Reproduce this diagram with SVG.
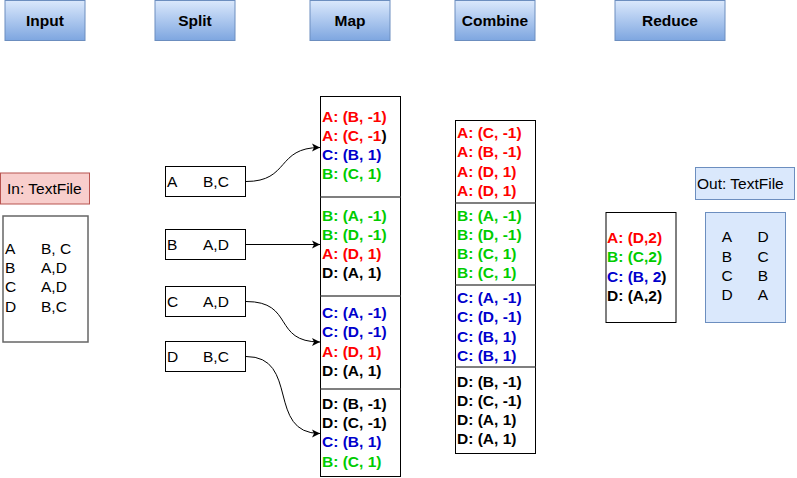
<svg xmlns="http://www.w3.org/2000/svg" width="797" height="478" viewBox="0 0 797 478">
<defs>
<linearGradient id="hdr" x1="0" y1="0" x2="0" y2="1">
<stop offset="0" stop-color="#dae8fc"/>
<stop offset="1" stop-color="#7ea6e0"/>
</linearGradient>
<marker id="arr" markerWidth="10" markerHeight="10" refX="9" refY="5" orient="auto" markerUnits="userSpaceOnUse">
<path d="M1,1 L9,5 L1,9 L3,5 Z" fill="#000"/>
</marker>
</defs>
<style>
.hdr{fill:url(#hdr);stroke:#6c8ebf;stroke-width:1}
.ht{font-family:"Liberation Sans",Arial,sans-serif;font-weight:bold;font-size:15.5px;text-anchor:middle;fill:#000}
.t{font-family:"Liberation Sans",Arial,sans-serif;font-size:15.5px;fill:#000}
.b{font-family:"Liberation Sans",Arial,sans-serif;font-size:15.5px;font-weight:bold}
.box{fill:#fff;stroke:#000;stroke-width:1}
.div{stroke:#555;stroke-width:1.5}
.r{fill:#ff0000}.g{fill:#00cc00}.bl{fill:#0000cc}.k{fill:#000}
.edge{fill:none;stroke:#000;stroke-width:1;marker-end:url(#arr)}
</style>

<g id="hdr-input"><rect class="hdr" x="5" y="0.5" width="80" height="40"/><text class="ht" x="45" y="25.5">Input</text></g>
<g id="hdr-split"><rect class="hdr" x="155" y="0.5" width="80" height="40"/><text class="ht" x="195" y="25.5">Split</text></g>
<g id="hdr-map"><rect class="hdr" x="310" y="0.5" width="80" height="40"/><text class="ht" x="350" y="25.5">Map</text></g>
<g id="hdr-combine"><rect class="hdr" x="455" y="0.5" width="80" height="40"/><text class="ht" x="495" y="25.5">Combine</text></g>
<g id="hdr-reduce"><rect class="hdr" x="615" y="0.5" width="110" height="40"/><text class="ht" x="670" y="25.5">Reduce</text></g>

<g id="in-label"><rect x="0.5" y="173" width="89" height="31" fill="#f8cecc" stroke="#b85450"/><text class="t" x="7" y="194">In: TextFile</text></g>
<g id="input-file"><rect x="3" y="216" width="85" height="126" fill="#fff" stroke="#666" stroke-width="1.5"/>
<text class="t" x="5" y="254">A</text><text class="t" x="41" y="254">B, C</text>
<text class="t" x="5" y="273">B</text><text class="t" x="41" y="273">A,D</text>
<text class="t" x="5" y="292">C</text><text class="t" x="41" y="292">A,D</text>
<text class="t" x="5" y="312">D</text><text class="t" x="41" y="312">B,C</text>
</g>

<g id="split-a"><rect class="box" x="165.5" y="166.5" width="80" height="30"/><text class="t" x="167" y="187">A</text><text class="t" x="203" y="187">B,C</text></g>
<g id="split-b"><rect class="box" x="165.5" y="229.5" width="80" height="30"/><text class="t" x="167" y="250">B</text><text class="t" x="203" y="250">A,D</text></g>
<g id="split-c"><rect class="box" x="165.5" y="286.5" width="80" height="30"/><text class="t" x="167" y="307">C</text><text class="t" x="203" y="307">A,D</text></g>
<g id="split-d"><rect class="box" x="165.5" y="341.5" width="80" height="30"/><text class="t" x="167" y="362">D</text><text class="t" x="203" y="362">B,C</text></g>

<g id="map">
<rect class="box" x="320.5" y="96.5" width="80" height="380"/>
<line class="div" x1="320.5" y1="197" x2="400.5" y2="197"/>
<line class="div" x1="320.5" y1="296" x2="400.5" y2="296"/>
<line class="div" x1="320.5" y1="389" x2="400.5" y2="389"/>
<text class="b r" x="322" y="122">A: (B, -1)</text>
<text class="b r" x="322" y="141">A: (C, -1<tspan class="k">)</tspan></text>
<text class="b bl" x="322" y="160">C: (B, 1)</text>
<text class="b g" x="322" y="179">B: (C, 1)</text>
<text class="b g" x="322" y="221">B: (A, -1)</text>
<text class="b g" x="322" y="240">B: (D, -1)</text>
<text class="b r" x="322" y="259">A: (D, 1)</text>
<text class="b k" x="322" y="278">D: (A, 1)</text>
<text class="b bl" x="322" y="318">C: (A, -1)</text>
<text class="b bl" x="322" y="337">C: (D, -1)</text>
<text class="b r" x="322" y="357">A: (D, 1)</text>
<text class="b k" x="322" y="376">D: (A, 1)</text>
<text class="b k" x="322" y="409">D: (B, -1)</text>
<text class="b k" x="322" y="428">D: (C, -1)</text>
<text class="b bl" x="322" y="447">C: (B, 1)</text>
<text class="b g" x="322" y="467">B: (C, 1)</text>
</g>

<g id="combine">
<rect class="box" x="455.5" y="120.5" width="80" height="333"/>
<line class="div" x1="455.5" y1="203" x2="535.5" y2="203"/>
<line class="div" x1="455.5" y1="285" x2="535.5" y2="285"/>
<line class="div" x1="455.5" y1="367" x2="535.5" y2="367"/>
<text class="b r" x="457" y="138">A: (C, -1)</text>
<text class="b r" x="457" y="157">A: (B, -1)</text>
<text class="b r" x="457" y="177">A: (D, 1)</text>
<text class="b r" x="457" y="196">A: (D, 1)</text>
<text class="b g" x="457" y="221">B: (A, -1)</text>
<text class="b g" x="457" y="240">B: (D, -1)</text>
<text class="b g" x="457" y="259">B: (C, 1)</text>
<text class="b g" x="457" y="278">B: (C, 1)</text>
<text class="b bl" x="457" y="303">C: (A, -1)</text>
<text class="b bl" x="457" y="322">C: (D, -1)</text>
<text class="b bl" x="457" y="342">C: (B, 1)</text>
<text class="b bl" x="457" y="361">C: (B, 1)</text>
<text class="b k" x="457" y="387">D: (B, -1)</text>
<text class="b k" x="457" y="406">D: (C, -1)</text>
<text class="b k" x="457" y="425">D: (A, 1)</text>
<text class="b k" x="457" y="444">D: (A, 1)</text>
</g>

<g id="reduce">
<rect class="box" x="606" y="212.5" width="70" height="110"/>
<text class="b r" x="607" y="243">A: (D,2)</text>
<text class="b g" x="607" y="262">B: (C,2)</text>
<text class="b bl" x="607" y="282">C: (B, 2<tspan class="k">)</tspan></text>
<text class="b k" x="607" y="301">D: (A,2)</text>
</g>

<g id="out-label"><rect x="695.5" y="167.5" width="99" height="32" fill="#dae8fc" stroke="#6c8ebf"/><text class="t" x="697" y="189">Out: TextFile</text></g>
<g id="output-file"><rect x="705.5" y="212.5" width="80" height="110" fill="#dae8fc" stroke="#6c8ebf"/>
<text class="t" x="727" y="242" text-anchor="middle">A</text><text class="t" x="763" y="242" text-anchor="middle">D</text>
<text class="t" x="727" y="262" text-anchor="middle">B</text><text class="t" x="763" y="262" text-anchor="middle">C</text>
<text class="t" x="727" y="281" text-anchor="middle">C</text><text class="t" x="763" y="281" text-anchor="middle">B</text>
<text class="t" x="727" y="300" text-anchor="middle">D</text><text class="t" x="763" y="300" text-anchor="middle">A</text>
</g>

<g id="connectors">
<path class="edge" d="M246,181.5 C290,181.5 276,147.5 320,147.5"/>
<path class="edge" d="M246,244.5 L320,244.5"/>
<path class="edge" d="M246,301.5 C295,301.5 272,342 320,342"/>
<path class="edge" d="M246,356.5 C300,356.5 266,433.5 320,433.5"/>
</g>
</svg>
